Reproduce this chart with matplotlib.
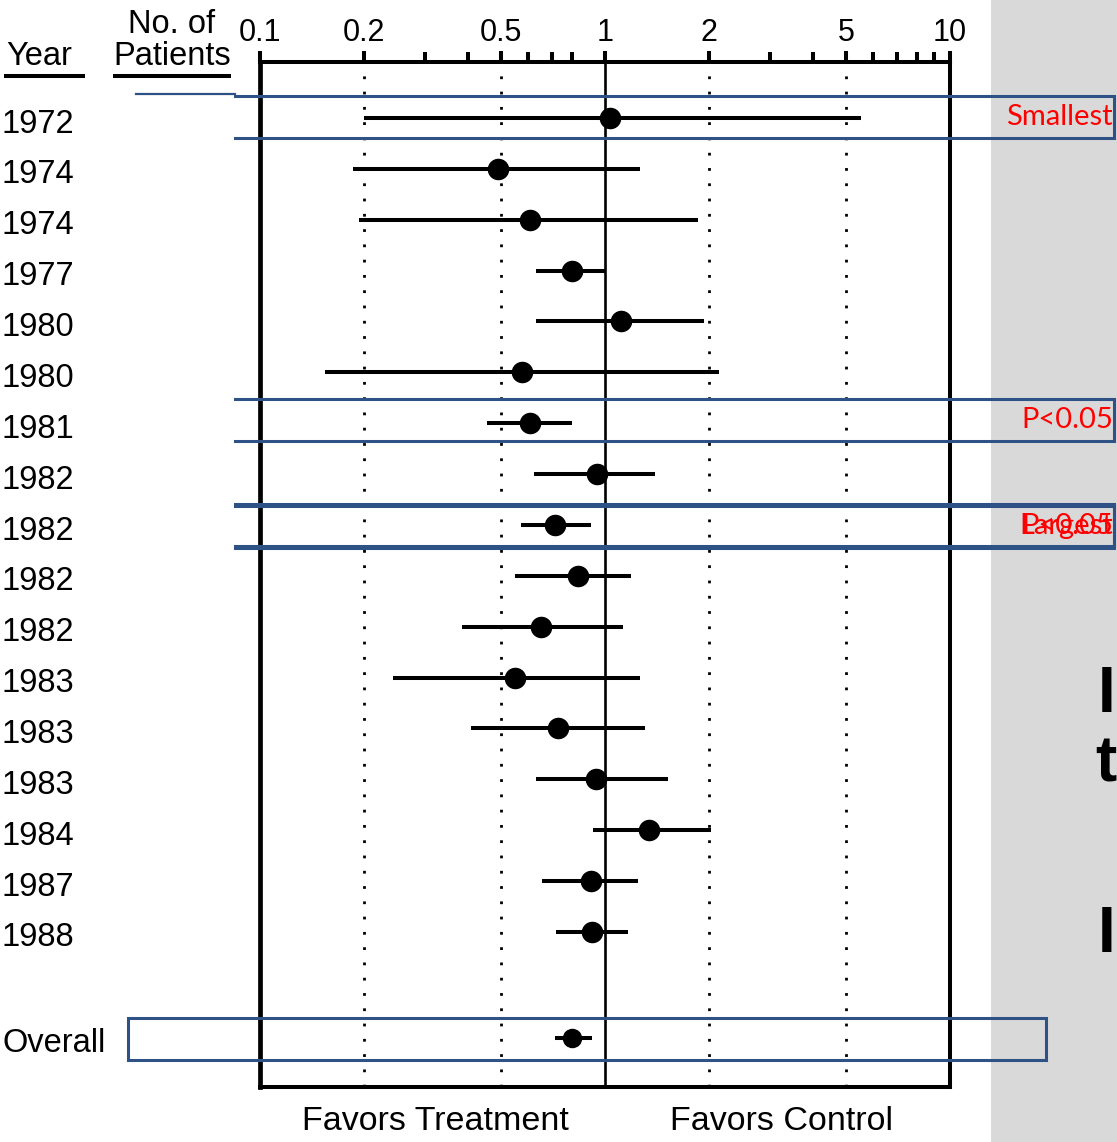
import matplotlib
matplotlib.use("Agg")
import matplotlib.pyplot as plt
from matplotlib.patches import Rectangle
from matplotlib.transforms import blended_transform_factory

# ---------------- data ----------------
years = ["1972", "1974", "1974", "1977", "1980", "1980", "1981", "1982", "1982",
         "1982", "1982", "1983", "1983", "1983", "1984", "1987", "1988"]
estimate = [1.035, 0.49, 0.605, 0.80, 1.11, 0.573, 0.605, 0.947, 0.718,
            0.834, 0.654, 0.55, 0.73, 0.943, 1.345, 0.912, 0.918]
ci_low = [0.20, 0.186, 0.193, 0.632, 0.632, 0.154, 0.455, 0.621, 0.57,
          0.547, 0.384, 0.243, 0.408, 0.632, 0.922, 0.658, 0.719]
ci_high = [5.51, 1.26, 1.855, 1.0, 1.94, 2.14, 0.80, 1.40, 0.912,
           1.19, 1.13, 1.26, 1.31, 1.52, 2.03, 1.25, 1.164]
overall_label = "Overall"
overall_est = 0.80
overall_low = 0.714
overall_high = 0.914

major_ticks = [0.1, 0.2, 0.5, 1, 2, 5, 10]
major_labels = ["0.1", "0.2", "0.5", "1", "2", "5", "10"]
minor_ticks = [0.3, 0.4, 0.6, 0.7, 0.8, 3, 4, 6, 7, 8, 9]
dotted_refs = [0.2, 0.5, 2, 5]

# ---------------- figure ----------------
W, H = 1117, 1142
fig = plt.figure(figsize=(W / 100, H / 100), dpi=100)
FONT = "Liberation Sans"
plt.rcParams["font.family"] = [FONT, "DejaVu Sans"]

def fx(px):
    return px / W

def fy(py):
    return 1 - py / H

ax_l, ax_r, ax_t, ax_b = 260, 950, 62, 1087
ax = fig.add_axes([fx(ax_l), fy(ax_b), fx(ax_r - ax_l), (ax_b - ax_t) / H])
ax.set_xscale("log")
ax.set_xlim(0.1, 10)
n = len(years)
overall_pos = n + 1.08
ax.set_ylim(19.05, -1.1)

for s in ax.spines.values():
    s.set_linewidth(2.9)
    s.set_color("black")
ax.spines["left"].set_linewidth(3.4)

ax.xaxis.tick_top()
ax.set_xticks(major_ticks)
ax.set_xticklabels(major_labels, fontsize=22, family=FONT)
ax.set_xticks(minor_ticks, minor=True)
ax.xaxis.set_minor_formatter(matplotlib.ticker.NullFormatter())
ax.tick_params(axis="x", which="major", direction="out", length=8, width=2.9, pad=2)
ax.tick_params(axis="x", which="minor", direction="out", length=7.5, width=2.9)
ax.set_yticks([])

# reference lines
for v in dotted_refs:
    ax.axvline(v, color="black", lw=2.0, linestyle=(0, (1, 4.5)), zorder=1)
ax.axvline(1, color="black", lw=1.9, zorder=1)

# rows
rows = list(range(n))
ax.hlines(rows, ci_low, ci_high, color="black", lw=2.9, zorder=3)
ax.plot(estimate, rows, "o", color="black", markersize=14.5, zorder=4)
ax.hlines([overall_pos], [overall_low], [overall_high], color="black", lw=2.9, zorder=3)
ax.plot([overall_est], [overall_pos], "o", color="black", markersize=13, zorder=4)

# row labels
tr = blended_transform_factory(fig.transFigure, ax.transData)
label_shift = 0.12
for i, y in enumerate(years):
    ax.text(fx(2), i + label_shift, y, transform=tr, fontsize=23.5, va="center",
            ha="left", family=FONT, clip_on=False)
ax.text(fx(2), overall_pos + label_shift, overall_label, transform=tr, fontsize=23.5,
        va="center", ha="left", family=FONT, clip_on=False)

# ---------------- background / overlay in pixel coords ----------------
bg = fig.add_axes([0, 0, 1, 1], zorder=-5)
bg.set_xlim(0, W)
bg.set_ylim(H, 0)
bg.axis("off")
bg.add_patch(Rectangle((991, 0), W - 991, H, facecolor="#d9d9d9", edgecolor="none"))

ov = fig.add_axes([0, 0, 1, 1], zorder=10)
ov.set_xlim(0, W)
ov.set_ylim(H, 0)
ov.axis("off")
ov.patch.set_alpha(0)

# header
ov.text(6, 65, "Year", fontsize=23.5, ha="left", va="baseline", family=FONT)
ov.text(172, 33, "No. of", fontsize=23.5, ha="center", va="baseline", family=FONT)
ov.text(172, 65, "Patients", fontsize=23.5, ha="center", va="baseline", family=FONT)
ov.plot([4, 85], [76, 76], color="black", lw=2.9, solid_capstyle="butt")
ov.plot([113, 231], [76, 76], color="black", lw=2.9, solid_capstyle="butt")

# bottom labels
ov.text(435, 1121, "Favors Treatment", fontsize=24.5, ha="center", va="center", family=FONT)
ov.text(781, 1121, "Favors Control", fontsize=24.5, ha="center", va="center", family=FONT)

# large slide letters at the right edge
ov.text(1116, 665, "I", fontsize=46, ha="right", va="top", family=FONT, fontweight="bold")
ov.text(1116, 735, "t", fontsize=46, ha="right", va="top", family=FONT, fontweight="bold")
ov.text(1116, 905, "I", fontsize=46, ha="right", va="top", family=FONT, fontweight="bold")

# blue annotation boxes
blue = "#2f5286"
def open_box(y0, y1, lw=2.2):
    ov.plot([235, 1114, 1114, 235], [y0, y0, y1, y1], color=blue, lw=lw,
            solid_joinstyle="miter")

ov.plot([136, 235], [94, 94], color=blue, lw=1.6)
open_box(96, 138)
open_box(399, 441)
open_box(504, 546)
open_box(506, 548)
ov.add_patch(Rectangle((128, 1018), 1046 - 128, 42, facecolor="none",
                       edgecolor=blue, lw=2.2))

RED_FONT = ["Lato", "DejaVu Sans"]
ov.text(1113, 117, "Smallest", color="red", fontsize=21, ha="right", va="center", family=RED_FONT)
ov.text(1113, 420, "P<0.05", color="red", fontsize=21, ha="right", va="center", family=RED_FONT)
ov.text(1113, 526, "Largest", color="red", fontsize=21, ha="right", va="center", family=RED_FONT)
ov.text(1113, 526, "P<0.05", color="red", fontsize=21, ha="right", va="center", family=RED_FONT)

fig.savefig("out.png", dpi=100)
